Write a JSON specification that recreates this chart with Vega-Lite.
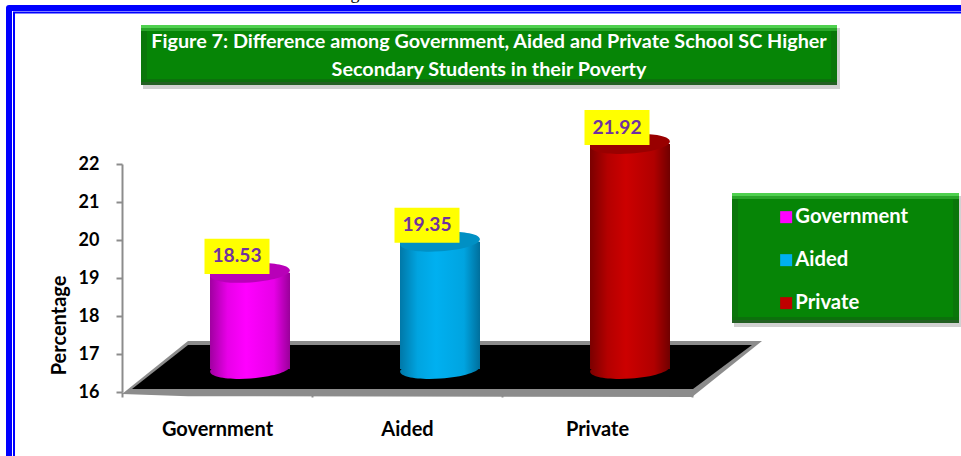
{
  "$schema": "https://vega.github.io/schema/vega-lite/v6.json",
  "width": 570,
  "height": 228,
  "autosize": "none",
  "padding": {"left": 122, "top": 164, "right": 269, "bottom": 64},
  "background": "white",
  "config": {"view": {"stroke": null}, "axis": {"grid": false}, "font": "Lato"},
  "datasets": {
    "schools": [
      {"name": "Government", "v": 18.53, "v2": 16},
      {"name": "Aided", "v": 19.35, "v2": 16},
      {"name": "Private", "v": 21.92, "v2": 16}
    ],
    "panels": [
      {"panel": "heading", "p": 19, "p2": 715, "v": 25.658, "v2": 24.079},
      {"panel": "key", "p": 610, "p2": 837, "v": 21.237, "v2": 17.816}
    ],
    "bevels": [
      {"edge": "side", "p": 19, "p2": 25, "v": 25.658, "v2": 24.079},
      {"edge": "side", "p": 709, "p2": 715, "v": 25.658, "v2": 24.079},
      {"edge": "top", "p": 19, "p2": 715, "v": 25.658, "v2": 25.579},
      {"edge": "top-inner", "p": 19, "p2": 715, "v": 25.579, "v2": 25.5},
      {"edge": "bottom-inner", "p": 19, "p2": 715, "v": 24.237, "v2": 24.158},
      {"edge": "bottom", "p": 19, "p2": 715, "v": 24.158, "v2": 24.079},
      {"edge": "side", "p": 610, "p2": 616, "v": 21.237, "v2": 17.816},
      {"edge": "side", "p": 831, "p2": 837, "v": 21.237, "v2": 17.816},
      {"edge": "top", "p": 610, "p2": 837, "v": 21.237, "v2": 21.158},
      {"edge": "top-inner", "p": 610, "p2": 837, "v": 21.158, "v2": 21.079},
      {"edge": "bottom-inner", "p": 610, "p2": 837, "v": 17.974, "v2": 17.895},
      {"edge": "bottom", "p": 610, "p2": 837, "v": 17.895, "v2": 17.816}
    ]
  },
  "resolve": {"scale": {"x": "independent"}, "axis": {"x": "independent"}},
  "encoding": {
    "y": {
      "field": "v",
      "type": "quantitative",
      "scale": {"domain": [16, 22], "nice": false, "zero": false},
      "axis": {
        "title": "Percentage",
        "titleFont": "Lato",
        "titleFontSize": 20,
        "titleFontWeight": "bold",
        "titleColor": "black",
        "titleX": -53,
        "titleY": 161,
        "values": [16, 17, 18, 19, 20, 21, 22],
        "labelFont": "Lato",
        "labelFontSize": 18,
        "labelFontWeight": "bold",
        "labelColor": "black",
        "labelPadding": 17,
        "tickColor": "#8c8c8c",
        "tickSize": 6,
        "tickWidth": 2,
        "domainColor": "#8c8c8c",
        "domainWidth": 2
      }
    }
  },
  "layer": [
    {
      "description": "Double blue page frame",
      "data": {"values": [
        {"n": 1, "p": 860, "v": 26.105},
        {"n": 2, "p": -113, "v": 26.105},
        {"n": 3, "p": -113, "v": 13.9}
      ]},
      "mark": {"type": "line", "stroke": "#0000ff", "strokeWidth": 6, "strokeJoin": "round", "clip": false},
      "encoding": {
        "x": {"field": "p", "type": "quantitative", "scale": {"domain": [0, 570], "nice": false, "zero": false}, "axis": null},
        "order": {"field": "n"}
      }
    },
    {
      "data": {"values": [
        {"n": 1, "p": 860, "v": 25.987},
        {"n": 2, "p": -108, "v": 25.987},
        {"n": 3, "p": -108, "v": 13.9}
      ]},
      "mark": {"type": "line", "stroke": "#0000ff", "strokeWidth": 2, "clip": false},
      "encoding": {
        "x": {"field": "p", "type": "quantitative", "scale": {"domain": [0, 570], "nice": false, "zero": false}, "axis": null},
        "order": {"field": "n"}
      }
    },
    {
      "description": "Descender of the caption line above the frame",
      "data": {"values": [{"p": 233, "v": 26.34, "t": "g"}]},
      "mark": {"type": "text", "font": "Liberation Serif", "fontSize": 18, "color": "black", "align": "center", "baseline": "alphabetic"},
      "encoding": {
        "x": {"field": "p", "type": "quantitative", "scale": {"domain": [0, 570], "nice": false, "zero": false}, "axis": null},
        "text": {"field": "t"}
      }
    },
    {
      "description": "Panel drop shadows",
      "data": {"name": "panels"},
      "mark": {"type": "rect", "fill": "#000000", "opacity": 0.18, "xOffset": 2, "x2Offset": 3, "yOffset": 3, "y2Offset": 4},
      "encoding": {
        "x": {"field": "p", "type": "quantitative", "scale": {"domain": [0, 570], "nice": false, "zero": false}, "axis": null},
        "x2": {"field": "p2"},
        "y2": {"field": "v2"}
      }
    },
    {
      "data": {"name": "panels"},
      "mark": {"type": "rect", "fill": "#068506"},
      "encoding": {
        "x": {"field": "p", "type": "quantitative", "scale": {"domain": [0, 570], "nice": false, "zero": false}, "axis": null},
        "x2": {"field": "p2"},
        "y2": {"field": "v2"}
      }
    },
    {
      "data": {"name": "bevels"},
      "mark": {"type": "rect"},
      "encoding": {
        "x": {"field": "p", "type": "quantitative", "scale": {"domain": [0, 570], "nice": false, "zero": false}, "axis": null},
        "x2": {"field": "p2"},
        "y2": {"field": "v2"},
        "color": {
          "field": "edge",
          "type": "nominal",
          "scale": {"domain": ["side", "top", "top-inner", "bottom-inner", "bottom"], "range": ["#0a760a", "#4fd04f", "#2aa52a", "#0c700c", "#236023"]},
          "legend": null
        }
      }
    },
    {
      "description": "Heading text",
      "data": {"values": [
        {"p": 367, "v": 25.21, "t": "Figure 7: Difference among Government, Aided and Private School SC Higher"},
        {"p": 367, "v": 24.47, "t": "Secondary Students in their Poverty"}
      ]},
      "mark": {"type": "text", "font": "Lato", "fontSize": 19.8, "fontWeight": "bold", "color": "white", "align": "center", "baseline": "middle"},
      "encoding": {
        "x": {"field": "p", "type": "quantitative", "scale": {"domain": [0, 570], "nice": false, "zero": false}, "axis": null},
        "text": {"field": "t"}
      }
    },
    {
      "description": "Grey slab under the cylinders",
      "data": {"values": [
        {"p": 0, "v": 15.95, "v2": 15.95},
        {"p": 66, "v": 17.34, "v2": 15.89},
        {"p": 570, "v": 17.34, "v2": 15.87},
        {"p": 640, "v": 17.34, "v2": 17.34}
      ]},
      "mark": {"type": "area", "fill": "#8c8c8c", "clip": false},
      "encoding": {
        "x": {"field": "p", "type": "quantitative", "scale": {"domain": [0, 570], "nice": false, "zero": false}, "axis": null},
        "y2": {"field": "v2"}
      }
    },
    {
      "description": "Black floor of the plot",
      "data": {"values": [
        {"p": 10, "v": 16.08, "v2": 16.08},
        {"p": 66, "v": 17.24, "v2": 16.08},
        {"p": 571, "v": 17.24, "v2": 16.08},
        {"p": 630, "v": 17.24, "v2": 17.24}
      ]},
      "mark": {"type": "area", "fill": "#000000", "clip": false},
      "encoding": {
        "x": {"field": "p", "type": "quantitative", "scale": {"domain": [0, 570], "nice": false, "zero": false}, "axis": null},
        "y2": {"field": "v2"}
      }
    },
    {
      "description": "Category axis and the colour key",
      "data": {"name": "schools"},
      "mark": {"type": "point", "shape": "square", "filled": true, "opacity": 0},
      "encoding": {
        "x": {
          "field": "name",
          "type": "nominal",
          "scale": {"type": "band", "domain": ["Government", "Aided", "Private"], "paddingInner": 0, "paddingOuter": 0},
          "axis": {
            "title": null,
            "labelAngle": 0,
            "labelFont": "Lato",
            "labelFontSize": 20,
            "labelFontWeight": "bold",
            "labelColor": "black",
            "labelPadding": 22,
            "tickBand": "extent",
            "tickColor": "#8c8c8c",
            "tickSize": 5,
            "tickWidth": 2,
            "domain": false
          }
        },
        "fill": {
          "field": "name",
          "type": "nominal",
          "scale": {"domain": ["Government", "Aided", "Private"], "range": ["#ff00ff", "#00b0f0", "#c00000"]},
          "legend": {
            "title": null,
            "orient": "none",
            "legendX": 654,
            "legendY": 43,
            "padding": 0,
            "symbolType": "square",
            "symbolSize": 144,
            "symbolOpacity": 1,
            "symbolStrokeWidth": 0,
            "labelFont": "Lato",
            "labelFontSize": 20.3,
            "labelFontWeight": "bold",
            "labelColor": "white",
            "labelOffset": -1,
            "rowPadding": 22
          }
        }
      }
    },
    {
      "transform": [{"filter": "datum.name === 'Government'"}],
      "data": {"name": "schools"},
      "layer": [
        {"mark": {"type": "point", "filled": true, "opacity": 1, "size": 6400, "angle": -4, "xOffset": 33, "yOffset": -23, "shape": "M-1,0A1,0.24,0,1,1,1,0A1,0.24,0,1,1,-1,0Z", "fill": {"gradient": "linear", "x1": 0, "x2": 1, "y1": 0, "y2": 0, "stops": [{"offset": 0, "color": "#a000a0"}, {"offset": 0.22, "color": "#e800e8"}, {"offset": 0.45, "color": "#ff00ff"}, {"offset": 0.8, "color": "#e800e8"}, {"offset": 1, "color": "#990099"}]}}, "encoding": {"y": {"field": "v2", "type": "quantitative"}}},
        {"mark": {"type": "bar", "size": 80, "xOffset": 33, "x2Offset": 33, "yOffset": -23, "y2Offset": -23, "fill": {"gradient": "linear", "x1": 0, "x2": 1, "y1": 0, "y2": 0, "stops": [{"offset": 0, "color": "#a000a0"}, {"offset": 0.22, "color": "#e800e8"}, {"offset": 0.45, "color": "#ff00ff"}, {"offset": 0.8, "color": "#e800e8"}, {"offset": 1, "color": "#990099"}]}}, "encoding": {"y2": {"field": "v2"}}},
        {"mark": {"type": "point", "filled": true, "opacity": 1, "size": 6400, "angle": -4, "xOffset": 33, "yOffset": -23, "shape": "M-1,0A1,0.24,0,1,1,1,0A1,0.24,0,1,1,-1,0Z", "fill": "#b800b8"}}
      ],
      "encoding": {
        "x": {"field": "name", "type": "nominal", "scale": {"type": "band", "domain": ["Government", "Aided", "Private"], "paddingInner": 0, "paddingOuter": 0}, "axis": null}
      }
    },
    {
      "transform": [{"filter": "datum.name === 'Aided'"}],
      "data": {"name": "schools"},
      "layer": [
        {"mark": {"type": "point", "filled": true, "opacity": 1, "size": 6400, "angle": -4, "xOffset": 33, "yOffset": -23, "shape": "M-1,0A1,0.24,0,1,1,1,0A1,0.24,0,1,1,-1,0Z", "fill": {"gradient": "linear", "x1": 0, "x2": 1, "y1": 0, "y2": 0, "stops": [{"offset": 0, "color": "#0078a8"}, {"offset": 0.22, "color": "#00a4e0"}, {"offset": 0.45, "color": "#00b0f0"}, {"offset": 0.8, "color": "#00a4e0"}, {"offset": 1, "color": "#006f9c"}]}}, "encoding": {"y": {"field": "v2", "type": "quantitative"}}},
        {"mark": {"type": "bar", "size": 80, "xOffset": 33, "x2Offset": 33, "yOffset": -23, "y2Offset": -23, "fill": {"gradient": "linear", "x1": 0, "x2": 1, "y1": 0, "y2": 0, "stops": [{"offset": 0, "color": "#0078a8"}, {"offset": 0.22, "color": "#00a4e0"}, {"offset": 0.45, "color": "#00b0f0"}, {"offset": 0.8, "color": "#00a4e0"}, {"offset": 1, "color": "#006f9c"}]}}, "encoding": {"y2": {"field": "v2"}}},
        {"mark": {"type": "point", "filled": true, "opacity": 1, "size": 6400, "angle": -4, "xOffset": 33, "yOffset": -23, "shape": "M-1,0A1,0.24,0,1,1,1,0A1,0.24,0,1,1,-1,0Z", "fill": "#0090c4"}}
      ],
      "encoding": {
        "x": {"field": "name", "type": "nominal", "scale": {"type": "band", "domain": ["Government", "Aided", "Private"], "paddingInner": 0, "paddingOuter": 0}, "axis": null}
      }
    },
    {
      "transform": [{"filter": "datum.name === 'Private'"}],
      "data": {"name": "schools"},
      "layer": [
        {"mark": {"type": "point", "filled": true, "opacity": 1, "size": 6400, "angle": -4, "xOffset": 33, "yOffset": -23, "shape": "M-1,0A1,0.24,0,1,1,1,0A1,0.24,0,1,1,-1,0Z", "fill": {"gradient": "linear", "x1": 0, "x2": 1, "y1": 0, "y2": 0, "stops": [{"offset": 0, "color": "#7a0000"}, {"offset": 0.22, "color": "#b40000"}, {"offset": 0.45, "color": "#cc0000"}, {"offset": 0.8, "color": "#b00000"}, {"offset": 1, "color": "#700000"}]}}, "encoding": {"y": {"field": "v2", "type": "quantitative"}}},
        {"mark": {"type": "bar", "size": 80, "xOffset": 33, "x2Offset": 33, "yOffset": -23, "y2Offset": -23, "fill": {"gradient": "linear", "x1": 0, "x2": 1, "y1": 0, "y2": 0, "stops": [{"offset": 0, "color": "#7a0000"}, {"offset": 0.22, "color": "#b40000"}, {"offset": 0.45, "color": "#cc0000"}, {"offset": 0.8, "color": "#b00000"}, {"offset": 1, "color": "#700000"}]}}, "encoding": {"y2": {"field": "v2"}}},
        {"mark": {"type": "point", "filled": true, "opacity": 1, "size": 6400, "angle": -4, "xOffset": 33, "yOffset": -23, "shape": "M-1,0A1,0.24,0,1,1,1,0A1,0.24,0,1,1,-1,0Z", "fill": "#990000"}}
      ],
      "encoding": {
        "x": {"field": "name", "type": "nominal", "scale": {"type": "band", "domain": ["Government", "Aided", "Private"], "paddingInner": 0, "paddingOuter": 0}, "axis": null}
      }
    },
    {
      "description": "Yellow value tags",
      "data": {"name": "schools"},
      "mark": {"type": "point", "filled": true, "opacity": 1, "fill": "#ffff00", "size": 4225, "shape": "M-1,-0.54H1V0.54H-1Z", "xOffset": 20, "yOffset": -39.5},
      "encoding": {
        "x": {"field": "name", "type": "nominal", "scale": {"type": "band", "domain": ["Government", "Aided", "Private"], "paddingInner": 0, "paddingOuter": 0}, "axis": null}
      }
    },
    {
      "data": {"name": "schools"},
      "mark": {"type": "text", "font": "Lato", "fontSize": 19.2, "fontWeight": "bold", "color": "#7030a0", "xOffset": 20, "yOffset": -39.5, "align": "center", "baseline": "middle"},
      "encoding": {
        "x": {"field": "name", "type": "nominal", "scale": {"type": "band", "domain": ["Government", "Aided", "Private"], "paddingInner": 0, "paddingOuter": 0}, "axis": null},
        "text": {"field": "v", "type": "quantitative", "format": ".2f"}
      }
    }
  ]
}
